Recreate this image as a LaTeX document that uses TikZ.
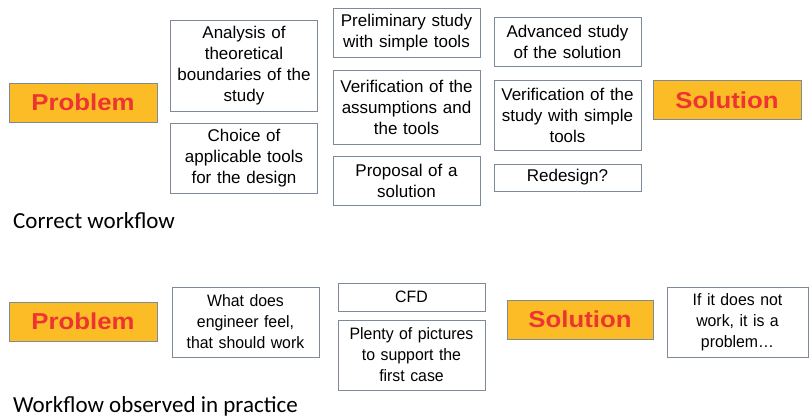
\documentclass[tikz,border=0pt]{standalone}
\usepackage{fontspec}
\setmainfont{Liberation Sans}
\newfontfamily\calib{Carlito}
\newfontfamily\narrowfont[FakeStretch=0.96]{Liberation Sans}
\newfontfamily\widefont[FakeStretch=1.12]{Liberation Sans}
\definecolor{boxline}{HTML}{7F8A98}
\definecolor{probfill}{HTML}{FBBC25}
\definecolor{probtext}{HTML}{EE3333}
\tikzset{
    stepbox/.style={draw=boxline, line width=0.9pt, fill=white, inner sep=0pt, align=center,
        minimum width=147pt, text width=145pt, font=\fontsize{17}{21}\selectfont},
    keybox/.style={draw=boxline, line width=0.9pt, fill=probfill, inner sep=0pt, align=center,
        minimum width=148pt, minimum height=39pt, text=probtext, font=\widefont\fontsize{23}{26}\selectfont\bfseries},
    narrowbox/.style={stepbox, font=\narrowfont\fontsize{16.5}{21}\selectfont},
    caption/.style={anchor=base west, inner sep=0pt, font=\calib\fontsize{23}{25}\selectfont}
}
\begin{document}
\begin{tikzpicture}[x=1pt, y=-1pt]
    \useasboundingbox (0,0) rectangle (809,418);

    % correct workflow
    \node[keybox] (prob1) at (83, 102.5) {Problem};
    \node[stepbox, minimum height=91pt] (anal) at (244, 65.5) {Analysis of\\theoretical\\boundaries of the\\study};
    \node[stepbox, minimum height=70pt] (choice) at (244, 158) {Choice of\\applicable tools\\for the design};
    \node[stepbox, minimum height=49pt] (prelim) at (406.5, 32.5) {Preliminary study\\with simple tools};
    \node[stepbox, minimum height=74pt] (verif1) at (406.5, 107) {Verification of the\\assumptions and\\the tools};
    \node[stepbox, minimum height=49pt] (propos) at (406.5, 180.5) {Proposal of a\\solution};
    \node[stepbox, minimum height=49pt] (adv) at (567.5, 41.5) {Advanced study\\of the solution};
    \node[stepbox, minimum height=70pt] (verif2) at (567.5, 115) {Verification of the\\study with simple\\tools};
    \node[stepbox, minimum height=27pt] (redes) at (567.5, 177.5) {Redesign?};
    \node[keybox] (sol1) at (727, 100) {Solution};
    \node[caption] (correct) at (13, 228) {Correct workflow};

    % workflow observed in practice
    \node[keybox] (prob2) at (83, 321.5) {Problem};
    \node[narrowbox, minimum height=70pt] (feel) at (245.5, 322) {What does\\engineer feel,\\that should work};
    \node[narrowbox, minimum height=28pt] (cfd) at (411.5, 297) {CFD};
    \node[narrowbox, minimum height=70pt] (plenty) at (411.5, 355) {Plenty of pictures\\to support the\\first case};
    \node[keybox, minimum width=146pt] (sol2) at (580, 319.5) {Solution};
    \node[narrowbox, minimum width=141pt, text width=139pt, minimum height=70pt] (ifnot) at (737.5, 322) {If it does not\\work, it is a\\problem\dots};
    \node[caption] (practice) at (13, 412) {Workflow observed in practice};
\end{tikzpicture}
\end{document}
